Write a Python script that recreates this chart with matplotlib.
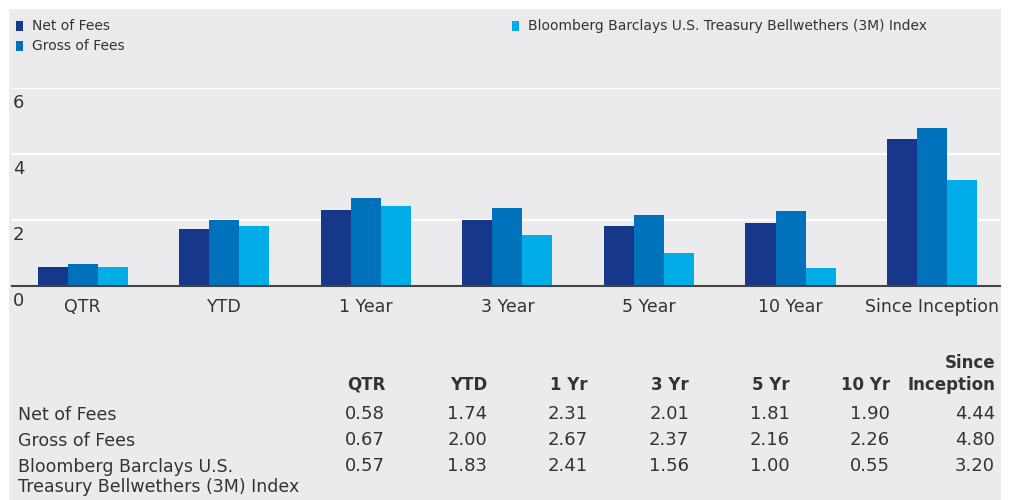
import numpy as np
import matplotlib.pyplot as plt
from matplotlib.patches import Rectangle

categories = ["QTR", "YTD", "1 Year", "3 Year", "5 Year", "10 Year", "Since Inception"]
table_cols = ["QTR", "YTD", "1 Yr", "3 Yr", "5 Yr", "10 Yr", "Since\nInception"]
series_names = ["Net of Fees", "Gross of Fees",
                "Bloomberg Barclays U.S. Treasury Bellwethers (3M) Index"]
table_rows = ["Net of Fees", "Gross of Fees",
              "Bloomberg Barclays U.S.\nTreasury Bellwethers (3M) Index"]
net = [0.58, 1.74, 2.31, 2.01, 1.81, 1.90, 4.44]
gross = [0.67, 2.00, 2.67, 2.37, 2.16, 2.26, 4.80]
bench = [0.57, 1.83, 2.41, 1.56, 1.00, 0.55, 3.20]
yticks = [0, 2, 4, 6]

colors = ["#17378A", "#0072BB", "#00ADE7"]
bg = "#EBEBED"
txt = "#333333"

W, H = 1013, 500
fig = plt.figure(figsize=(W / 100, H / 100), dpi=100)
fig.patches.append(Rectangle((9 / W, 0), 992 / W, 491 / H, transform=fig.transFigure,
                             facecolor=bg, edgecolor="none", zorder=-10))

ax = fig.add_axes([12 / W, 1 - 286 / H, 988 / W, 198 / H])
ax.set_facecolor("none")
x = np.arange(len(categories))
w = 0.212
for i, (vals, c) in enumerate(zip([net, gross, bench], colors)):
    ax.bar(x + (i - 1) * w, vals, w, color=c, label=series_names[i], zorder=3)

ax.set_xlim(-0.5, 6.48)
ax.set_ylim(0, 6)
for s in ["top", "right", "left"]:
    ax.spines[s].set_visible(False)
ax.spines["bottom"].set_color("#444444")
ax.spines["bottom"].set_linewidth(1.5)
ax.spines["bottom"].set_zorder(4)
ax.set_yticks(yticks)
ax.yaxis.grid(True, color="white", lw=1.6, zorder=1)
ax.tick_params(axis="y", length=0, labelleft=False)
ax.tick_params(axis="x", length=0, pad=9, labelsize=12.5, labelcolor=txt)
ax.set_xticks(x)
ax.set_xticklabels(categories)
for t in yticks:
    ax.text(0.001, t - 0.18, str(t), transform=ax.get_yaxis_transform(),
            ha="left", va="top", fontsize=13, color=txt)

# legend
leg_items = [(16, 26, 0), (16, 46, 1), (512, 26, 2)]
for lx, ly, k in leg_items:
    fig.patches.append(Rectangle((lx / W, 1 - (ly + 4.5) / H), 7 / W, 9 / H,
                                 transform=fig.transFigure, facecolor=colors[k],
                                 edgecolor="none"))
    fig.text((lx + 16) / W, 1 - ly / H, series_names[k], ha="left", va="center",
             fontsize=10, color=txt)

# table
col_right = [385, 487, 588, 689, 790, 890, 995]
for cx, name in zip(col_right, table_cols):
    fig.text(cx / W, 1 - 394 / H, name, ha="right", va="bottom", fontsize=12,
             fontweight="bold", color=txt, linespacing=1.25)
row_y = [414, 440, 466]
for ry, rname, vals in zip(row_y, table_rows, [net, gross, bench]):
    fig.text(18 / W, 1 - (ry - 8) / H, rname, ha="left", va="top", fontsize=12.5,
             color=txt, linespacing=1.15)
    for cx, v in zip(col_right, vals):
        fig.text(cx / W, 1 - ry / H, f"{v:.2f}", ha="right", va="center",
                 fontsize=13, color=txt)

fig.savefig("out.png", dpi=100, facecolor="white")
